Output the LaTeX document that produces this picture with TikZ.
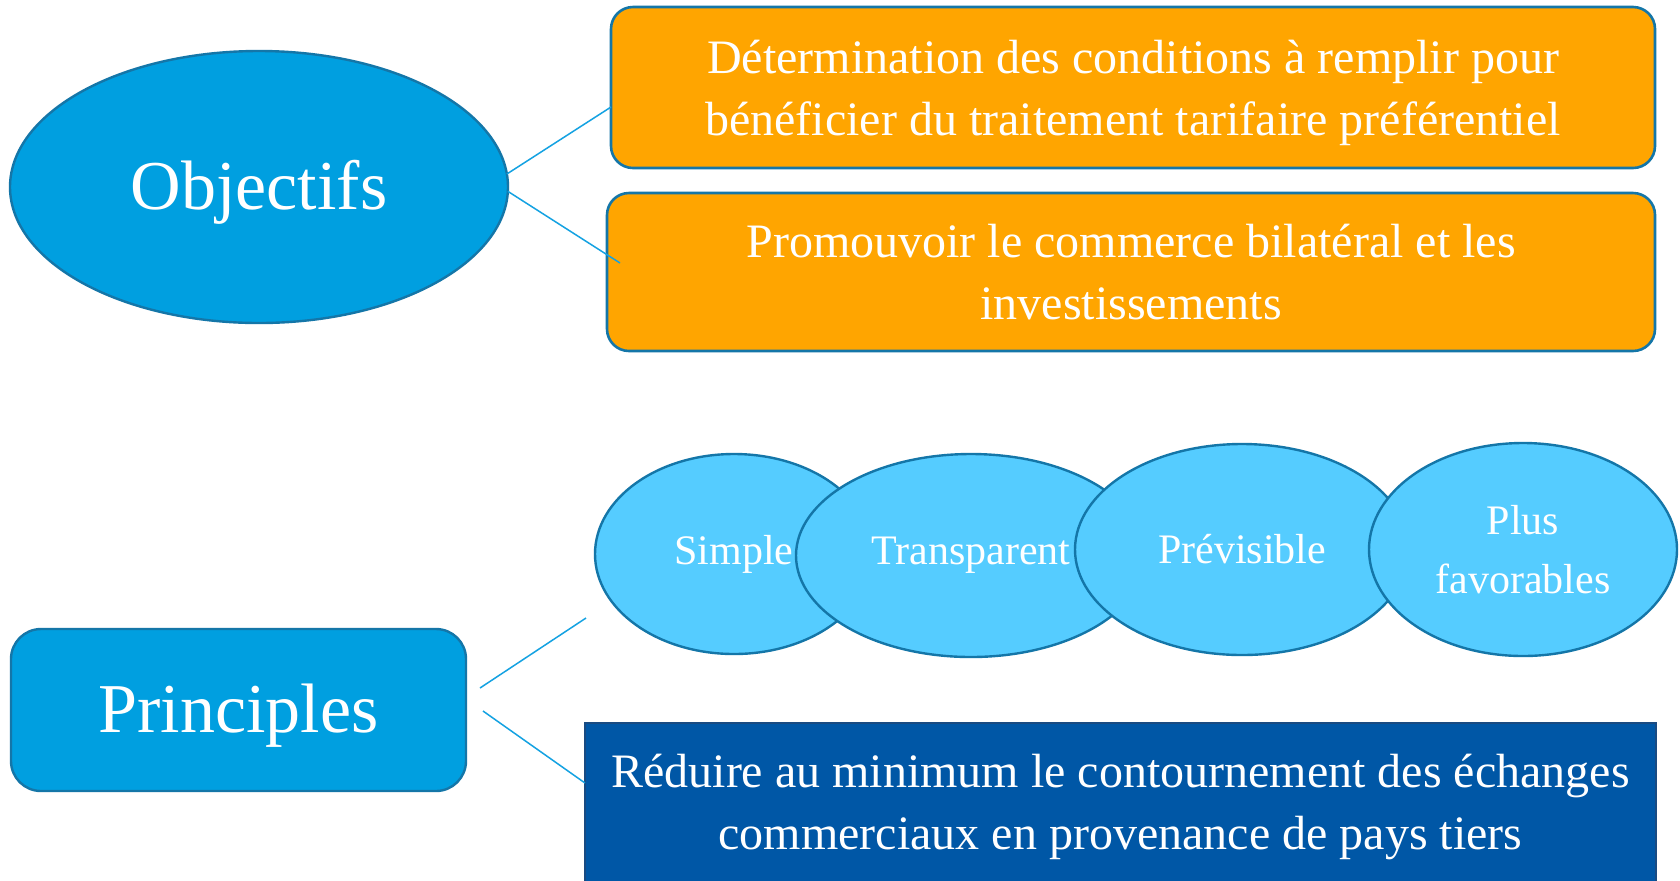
\documentclass[tikz,border=0pt]{standalone}
\usepackage{fontspec}
\setmainfont{Liberation Serif}
\usetikzlibrary{shapes.geometric}
\definecolor{objblue}{RGB}{0,159,224}
\definecolor{edgeblue}{RGB}{20,118,168}
\definecolor{orangebox}{RGB}{255,165,0}
\definecolor{lightblue}{RGB}{85,204,255}
\definecolor{darkbox}{RGB}{0,87,166}
\definecolor{darkedge}{RGB}{25,75,130}
\definecolor{linkblue}{RGB}{20,162,226}
\begin{document}
\begin{tikzpicture}[x=0.5pt,y=-0.5pt,
  every node/.style={text=white, inner sep=0pt, outer sep=0pt},
  bigell/.style={ellipse, fill=objblue, draw=edgeblue, line width=1.2pt,
    font=\fontsize{35}{40}\selectfont, text height=26pt, text depth=4pt},
  bigbox/.style={rectangle, rounded corners=15pt, fill=objblue, draw=edgeblue,
    line width=1.2pt, font=\fontsize{35}{40}\selectfont, text height=26pt, text depth=4pt},
  orbox/.style={rectangle, rounded corners=11pt, fill=orangebox, draw=edgeblue,
    line width=1.3pt, align=center, font=\fontsize{24}{31}\selectfont,
    minimum width=522pt},
  dkbox/.style={rectangle, fill=darkbox, draw=darkedge, line width=1pt,
    align=center, font=\fontsize{24}{31}\selectfont},
  smell/.style={ellipse, fill=lightblue, draw=edgeblue, line width=1.2pt,
    align=center, font=\fontsize{21}{29.5}\selectfont},
  link/.style={draw=linkblue, line width=0.75pt}]
\useasboundingbox (0,0) rectangle (1680,880);
\clip (0,0) rectangle (1680,880);
\fill[white] (0,0) rectangle (1680,880);

% Objectifs
\node[bigell, minimum width=249pt, minimum height=136pt] (obj) at (259,187) {Objectifs};
\node[orbox, minimum height=80.5pt] (o1) at (1133,87.5)
  {\rule{0pt}{22pt}Détermination des conditions à remplir pour\\bénéficier du traitement tarifaire préférentiel};
\node[orbox, minimum width=524pt, minimum height=79pt] (o2) at (1131,272)
  {Promouvoir le commerce bilatéral et les\\investissements};
\coordinate (o2in) at (620,263);
\draw[link] (obj.3) -- ([yshift=-9.75pt]o1.west);
\draw[link] (obj.-1) -- (o2in);

% Principles
\node[bigbox, minimum width=227.5pt, minimum height=81pt] (pr) at (238.5,710) {Principles};
\node[smell, minimum width=139pt, minimum height=100pt] (s1) at (734,554) {Simple};
\node[smell, minimum width=175pt, minimum height=101.5pt] (s2) at (971,555.5) {Transparent};
\node[smell, minimum width=167pt, minimum height=105.5pt] (s3) at (1242,549.5) {Prévisible};
\node[smell, minimum width=154pt, minimum height=106.5pt] (s4) at (1523,549.5) {Plus\\favorables};
\node[dkbox, minimum width=535.5pt, minimum height=84pt] (dk) at (1120.5,807)
  {Réduire au minimum le contournement des échanges\\commerciaux en provenance de pays tiers};
\coordinate (p1a) at (480,688);
\coordinate (p2a) at (483,711);
\coordinate (p1b) at (586,618);
\draw[link] (p1a) -- (p1b);
\draw[link] (p2a) -- ([yshift=12pt]dk.west);
\end{tikzpicture}
\end{document}
